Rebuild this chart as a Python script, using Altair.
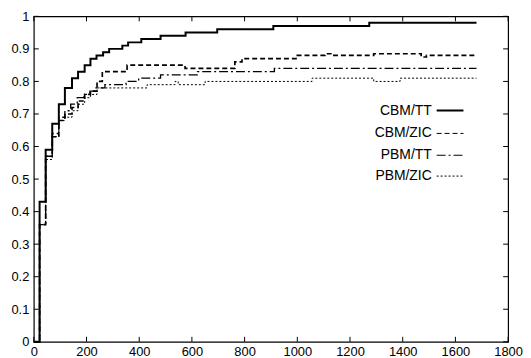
import altair as alt
import pandas as pd

# ---- data ----
series_names = ["CBM/TT", "CBM/ZIC", "PBM/TT", "PBM/ZIC"]

cbm_tt_x = [0, 22, 45, 70, 95, 118, 145, 168, 193, 215, 238, 263, 286, 336, 358, 408, 481, 576, 696, 909, 1273, 1680]
cbm_tt_y = [0, 0.43, 0.59, 0.67, 0.73, 0.78, 0.81, 0.83, 0.85, 0.87, 0.88, 0.89, 0.90, 0.91, 0.92, 0.93, 0.94, 0.95, 0.96, 0.97, 0.98, 0.98]

cbm_zic_x = [0, 22, 45, 70, 95, 118, 145, 168, 193, 215, 240, 260, 354, 574, 763, 790, 1000, 1105, 1135, 1290, 1470, 1490, 1680]
cbm_zic_y = [0, 0.36, 0.57, 0.63, 0.68, 0.70, 0.72, 0.74, 0.76, 0.77, 0.80, 0.83, 0.85, 0.84, 0.86, 0.87, 0.88, 0.885, 0.88, 0.885, 0.875, 0.88, 0.88]

pbm_tt_x = [0, 22, 45, 70, 95, 118, 140, 165, 190, 213, 236, 270, 300, 350, 398, 481, 621, 913, 1680]
pbm_tt_y = [0, 0.36, 0.57, 0.64, 0.69, 0.71, 0.73, 0.75, 0.76, 0.77, 0.78, 0.79, 0.79, 0.80, 0.81, 0.82, 0.83, 0.84, 0.84]

pbm_zic_x = [0, 22, 45, 70, 95, 118, 145, 168, 193, 215, 240, 430, 536, 548, 650, 1056, 1290, 1390, 1680]
pbm_zic_y = [0, 0.36, 0.56, 0.63, 0.68, 0.69, 0.71, 0.73, 0.75, 0.76, 0.78, 0.79, 0.80, 0.79, 0.80, 0.81, 0.80, 0.81, 0.81]

x_ticks = [0, 200, 400, 600, 800, 1000, 1200, 1400, 1600, 1800]
y_ticks = [0, 0.1, 0.2, 0.3, 0.4, 0.5, 0.6, 0.7, 0.8, 0.9, 1]

dashes = [[1, 0], [5, 3], [9, 3, 2, 3], [2, 2]]
widths = [2.0, 1.0, 1.0, 1.0]

W, H = 478, 328
FONT = "Liberation Sans"

rows = []
for name, xs, ys in [("CBM/TT", cbm_tt_x, cbm_tt_y), ("CBM/ZIC", cbm_zic_x, cbm_zic_y),
                     ("PBM/TT", pbm_tt_x, pbm_tt_y), ("PBM/ZIC", pbm_zic_x, pbm_zic_y)]:
    for a, b in zip(xs, ys):
        rows.append({"series": name, "x": a, "y": b})
df = pd.DataFrame(rows)

xscale = alt.Scale(domain=[0, 1800], nice=False, zero=False)
yscale = alt.Scale(domain=[0, 1], nice=False)
xaxis = alt.Axis(values=x_ticks, format="d", labelPadding=4, labelOverlap=False, labelFlush=False)
yaxis = alt.Axis(values=y_ticks, format="~g", labelPadding=5, labelOverlap=False, labelFlush=False)

lines = alt.Chart(df).mark_line(interpolate="step-after", color="black").encode(
    x=alt.X("x:Q", scale=xscale, title=None, axis=xaxis),
    y=alt.Y("y:Q", scale=yscale, title=None, axis=yaxis),
    strokeDash=alt.StrokeDash("series:N", scale=alt.Scale(domain=series_names, range=dashes), legend=None),
    strokeWidth=alt.StrokeWidth("series:N", scale=alt.Scale(domain=series_names, range=widths), legend=None),
    detail="series:N",
)

xt = pd.DataFrame({"v": x_ticks})
yt = pd.DataFrame({"v": y_ticks})
TL = 5
tick_b = alt.Chart(xt).mark_rule(color="black").encode(x=alt.X("v:Q", scale=xscale, axis=xaxis, title=None), y=alt.value(H), y2=alt.value(H - TL))
tick_t = alt.Chart(xt).mark_rule(color="black").encode(x=alt.X("v:Q", scale=xscale, axis=xaxis, title=None), y=alt.value(0), y2=alt.value(TL))
tick_l = alt.Chart(yt).mark_rule(color="black").encode(y=alt.Y("v:Q", scale=yscale, axis=yaxis, title=None), x=alt.value(0), x2=alt.value(TL))
tick_r = alt.Chart(yt).mark_rule(color="black").encode(y=alt.Y("v:Q", scale=yscale, axis=yaxis, title=None), x=alt.value(W), x2=alt.value(W - TL))

legend_layers = []
leg_y = [95, 118, 140, 161]
for i, name in enumerate(series_names):
    d = pd.DataFrame({"label": [name]})
    legend_layers.append(
        alt.Chart(d).mark_text(align="right", baseline="middle", font=FONT, fontSize=14, color="black").encode(
            text="label:N", x=alt.value(401), y=alt.value(leg_y[i]))
    )
    legend_layers.append(
        alt.Chart(d).mark_rule(color="black", strokeWidth=widths[i], strokeDash=dashes[i]).encode(
            x=alt.value(406), x2=alt.value(433), y=alt.value(leg_y[i]))
    )

chart = alt.layer(lines, tick_b, tick_t, tick_l, tick_r, *legend_layers).properties(
    width=W, height=H,
    autosize=alt.AutoSizeParams(type="none"),
    padding={"left": 26, "top": 7, "right": 15, "bottom": 25},
).configure_view(stroke="black", strokeWidth=1.2).configure_axis(
    domain=False, ticks=False, grid=False,
    labelFont=FONT, labelFontSize=13, labelColor="black",
)

chart.save("out.html", embed_options={"renderer": "svg", "actions": False})
